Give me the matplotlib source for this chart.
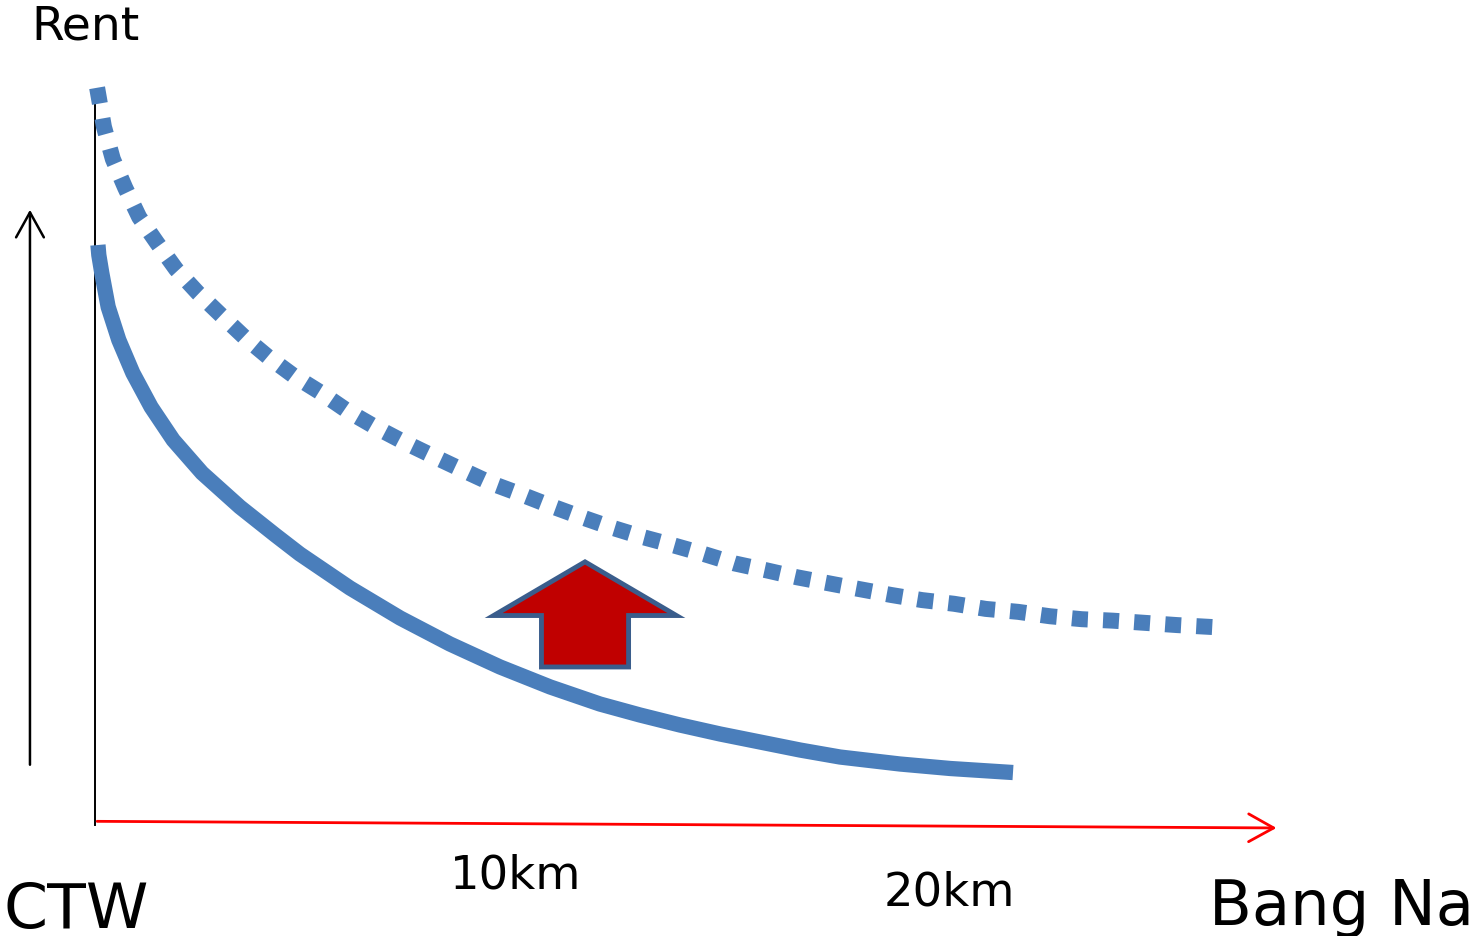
import numpy as np
import matplotlib
matplotlib.use("Agg")
import matplotlib.pyplot as plt
from matplotlib.patches import FancyArrow

# bid-rent curves: distance from CTW (km) vs. rent index
DIST_NOW = [0.07, 0.09, 0.16, 0.31, 0.56, 0.89, 1.32, 1.84, 2.52, 3.41,
            4.24, 4.82, 6.00, 7.18, 8.35, 9.53, 10.71, 11.88, 12.82, 13.76,
            14.71, 15.65, 16.59, 17.53, 18.94, 20.12, 21.60]
RENT_NOW = [78.91, 77.55, 75.10, 70.48, 65.99, 61.50, 56.87, 52.38, 47.89,
            43.27, 39.46, 36.87, 32.24, 28.16, 24.63, 21.50, 18.78, 16.46,
            14.97, 13.61, 12.38, 11.29, 10.20, 9.25, 8.30, 7.69, 7.14]

DIST_FUTURE = [0.05, 0.21, 0.42, 0.71, 1.04, 1.46, 1.91, 2.42, 2.96, 3.51,
               4.07, 4.68, 5.32, 5.95, 6.61, 7.27, 7.95, 8.61, 9.32, 10.02,
               10.73, 11.44, 12.14, 12.87, 13.58, 14.31, 15.04, 15.76, 16.52,
               17.25, 17.98, 18.73, 19.46, 20.21, 20.96, 21.72, 22.47, 23.22,
               23.95, 24.71, 25.46, 26.40]
RENT_FUTURE = [100.3, 95.0, 90.6, 86.7, 82.7, 79.2, 75.6, 72.4, 69.4, 66.4,
               63.7, 61.1, 58.8, 56.3, 54.1, 52.1, 50.2, 48.4, 46.5, 45.0,
               43.4, 41.9, 40.5, 39.2, 38.1, 36.9, 35.6, 34.7, 33.7, 32.9,
               32.1, 31.3, 30.6, 30.1, 29.4, 29.0, 28.4, 28.0, 27.8, 27.5,
               27.2, 26.9]

KM_TICKS = [10, 20]
KM_LABELS = ["10km", "20km"]

# rent shift arrow: position (km), base and top (rent index)
SHIFT_X, SHIFT_BASE, SHIFT_TOP = 11.53, 21.5, 35.8

BLUE = "#4A7EBB"
DARK_RED = "#C00000"
ARROW_EDGE = "#3A5D8C"

fig = plt.figure(figsize=(14.76, 9.36), dpi=100)
ax = fig.add_axes([0, 0, 1, 1])
ax.set_xlim(-2.235, 32.494)
ax.set_ylim(-15.10, 112.24)
ax.axis("off")

# axes of the diagram
ax.plot([0, 0], [0, 100], color="black", lw=1.4, zorder=1)
ax.annotate("", xy=(27.8, -0.4), xytext=(0.05, 0.5),
            arrowprops=dict(arrowstyle="->,head_length=0.9,head_width=0.5",
                            color="#FF0000", lw=2, shrinkA=0, shrinkB=0,
                            mutation_scale=20))
ax.annotate("", xy=(-1.53, 83.7), xytext=(-1.53, 8.2),
            arrowprops=dict(arrowstyle="->,head_length=0.9,head_width=0.5",
                            color="black", lw=1.8, shrinkA=0, shrinkB=0,
                            mutation_scale=20))

# current and future rent curves
ax.plot(DIST_NOW, RENT_NOW, color=BLUE, lw=11, solid_capstyle="butt",
        solid_joinstyle="round", zorder=3)
ax.plot(DIST_FUTURE, RENT_FUTURE, color=BLUE, lw=11.5,
        linestyle=(0, (1.0, 0.95)), dash_capstyle="butt", zorder=3)

# upward shift arrow
ax.add_patch(FancyArrow(SHIFT_X, SHIFT_BASE, 0, SHIFT_TOP - SHIFT_BASE,
                        width=2.05, head_width=4.3, head_length=7.3,
                        length_includes_head=True, facecolor=DARK_RED,
                        edgecolor=ARROW_EDGE, lw=3.5, joinstyle="miter",
                        zorder=4))

# labels
ax.text(-1.50, 106.8, "Rent", fontsize=34, va="baseline", ha="left")
ax.text(-2.15, -14.0, "CTW", fontsize=45.5, va="baseline", ha="left")
ax.text(26.22, -13.6, "Bang Na", fontsize=45, va="baseline", ha="left")
for km, lab, base in zip(KM_TICKS, KM_LABELS, [-8.57, -10.9]):
    ax.text(km - 0.1 + (km == 20) * 0.2, base, lab, fontsize=33.5,
            va="baseline", ha="center")

fig.savefig("out.png", dpi=100)
